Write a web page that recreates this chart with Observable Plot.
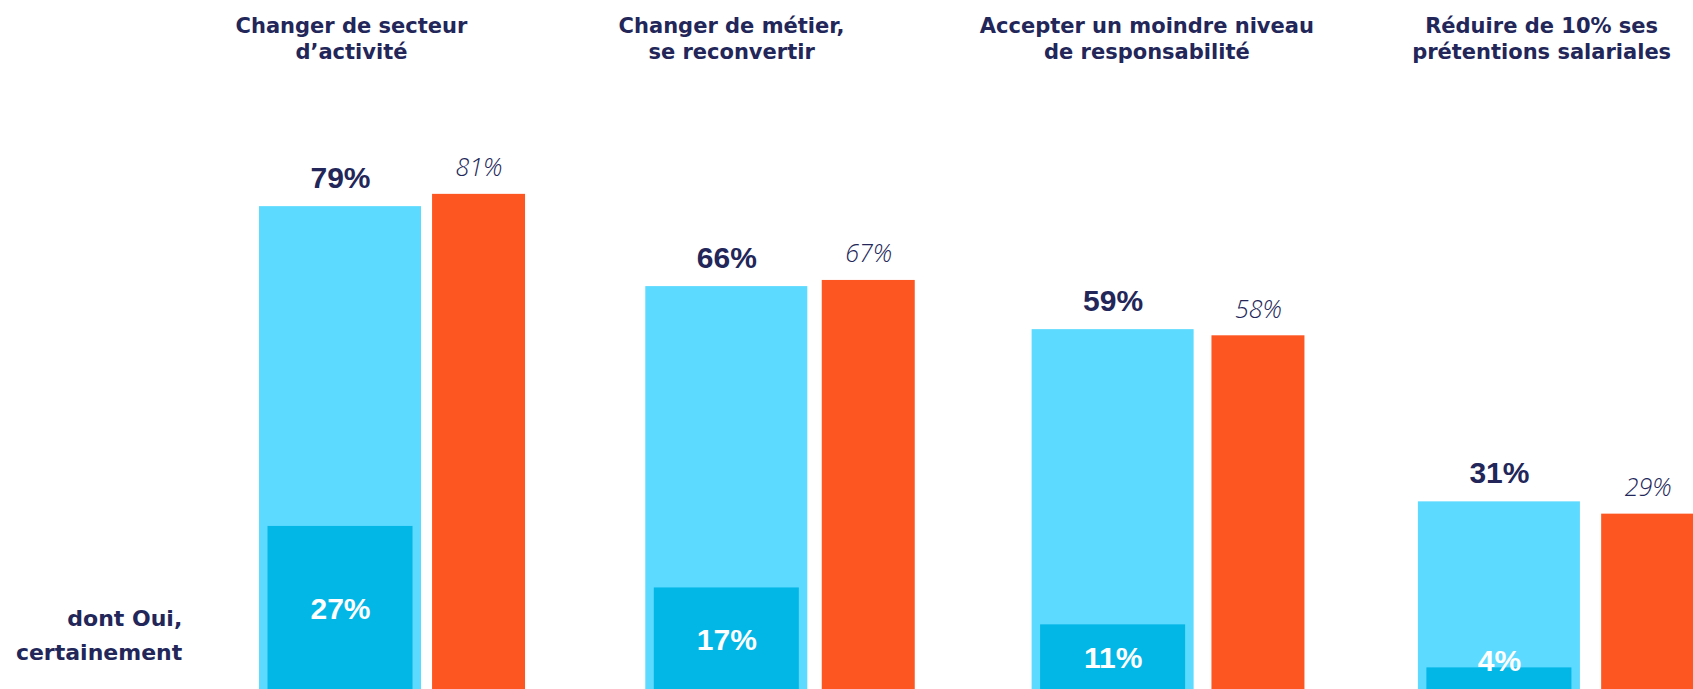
<!DOCTYPE html>
<html>
<head>
<meta charset="utf-8">
<script src="https://cdn.jsdelivr.net/npm/d3@7"></script>
<script src="https://cdn.jsdelivr.net/npm/@observablehq/plot@0.6"></script>
<style>
  html, body { margin: 0; padding: 0; background: #ffffff; overflow: hidden; }
  #chart svg { display: block; }
</style>
</head>
<body>
<div id="chart"></div>
<script>
// ---- data ----
const categories = [
  "Changer de secteur\nd’activité",
  "Changer de métier,\nse reconvertir",
  "Accepter un moindre niveau\nde responsabilité",
  "Réduire de 10% ses\nprétentions salariales"
];
const totalOui = [79, 66, 59, 31];          // light cyan bars
const ouiCertainement = [27, 17, 11, 4];    // dark cyan inner bars ("dont Oui, certainement")
const comparison = [81, 67, 58, 29];        // orange bars
const sideLabel = "dont Oui,\ncertainement";

// ---- layout (x in "group" units, y in percent) ----
const cyanW = 0.4194, inset = 0.022, orangeW = 0.2407;
const orangeOff = i => 0.448 + 0.0088 * i;
const titleCenter = [0.238, 0.222, 0.297, 0.319];

const navy = "#222659";
const cyan = "#5CDAFF";
const cyanDark = "#02B6E6";
const orange = "#FE5621";

const rows = categories.map((c, i) => ({
  i, title: c, total: totalOui[i], sure: ouiCertainement[i], comp: comparison[i]
}));

const numFont = "'Liberation Sans', Arial, sans-serif";
const titleFont = "'DejaVu Sans', sans-serif";

const chart = Plot.plot({
  width: 1693,
  height: 689,
  margin: 0,
  x: { type: "linear", domain: [0, 1], range: [259, 645.3], axis: null },
  y: { type: "linear", domain: [0, 100], range: [692, 77], axis: null },
  marks: [
    // light cyan total bars
    Plot.rectY(rows, { x1: d => d.i, x2: d => d.i + cyanW, y1: 0, y2: "total", fill: cyan }),
    // dark inner bars
    Plot.rectY(rows, { x1: d => d.i + inset, x2: d => d.i + cyanW - inset, y1: 0, y2: "sure", fill: cyanDark }),
    // orange comparison bars
    Plot.rectY(rows, { x1: d => d.i + orangeOff(d.i), x2: d => d.i + orangeOff(d.i) + orangeW, y1: 0, y2: "comp", fill: orange }),
    // total labels
    Plot.text(rows, {
      x: d => d.i + cyanW / 2, y: "total", text: d => d.total + "%",
      dy: -19, lineAnchor: "bottom", fill: navy,
      fontFamily: numFont, fontWeight: "bold", fontSize: 30
    }),
    // comparison labels
    Plot.text(rows, {
      x: d => d.i + orangeOff(d.i) + orangeW / 2, y: "comp", text: d => d.comp + "%",
      dy: -18, lineAnchor: "bottom", fill: navy,
      fontFamily: "'Open Sans', sans-serif", fontWeight: 300, fontStyle: "italic", fontSize: 25
    }),
    // inner labels
    Plot.text(rows, {
      x: d => d.i + cyanW / 2, y: d => Math.max(d.sure / 2, 5.1), text: d => d.sure + "%",
      lineAnchor: "middle", fill: "white",
      fontFamily: numFont, fontWeight: "bold", fontSize: 30
    }),
    // titles
    Plot.text(rows, {
      x: d => d.i + titleCenter[d.i], frameAnchor: "top", text: "title",
      lineAnchor: "top", dy: 13.4, lineHeight: 1.27, fill: navy,
      fontFamily: titleFont, fontWeight: "bold", fontSize: 21
    }),
    // side label
    Plot.text([sideLabel], {
      x: -0.2, y: 14.7, text: d => d,
      textAnchor: "end", lineAnchor: "top", lineHeight: 1.53, fill: navy,
      fontFamily: titleFont, fontWeight: "bold", fontSize: 22
    })
  ]
});

document.getElementById("chart").appendChild(chart);
</script>
</body>
</html>
